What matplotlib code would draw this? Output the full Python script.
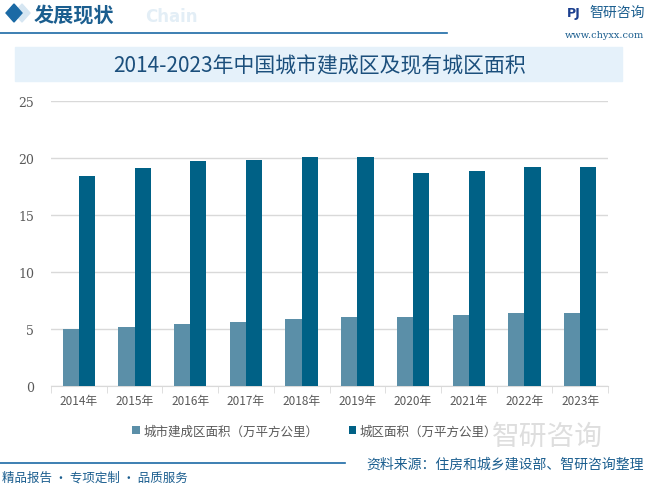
import matplotlib
matplotlib.use("Agg")
import matplotlib.pyplot as plt
from matplotlib.patches import Rectangle, Polygon
import numpy as np

plt.rcParams['font.family'] = ['Noto Sans CJK SC', 'DejaVu Sans']

years = ["2014年", "2015年", "2016年", "2017年", "2018年",
         "2019年", "2020年", "2021年", "2022年", "2023年"]
built_area = [4.98, 5.21, 5.43, 5.62, 5.85, 6.03, 6.07, 6.24, 6.37, 6.38]
urban_area = [18.41, 19.13, 19.78, 19.84, 20.09, 20.07, 18.69, 18.86, 19.22, 19.22]
series_names = ["城市建成区面积（万平方公里）", "城区面积（万平方公里）"]

c_light = "#5b8fa8"
c_dark = "#006186"

fig = plt.figure(figsize=(6.48, 4.89), dpi=100)
W, H = 648, 489

def fx(px):
    return px / W

def fy(py):
    return 1 - py / H

# header
fig.patches.append(Polygon([[fx(6), fy(14)], [fx(14), fy(5)], [fx(22), fy(14)], [fx(14), fy(23)]],
                           closed=True, transform=fig.transFigure, color="#1b6aa5", zorder=3))
fig.patches.append(Polygon([[fx(14), fy(14)], [fx(22), fy(5)], [fx(30), fy(14)], [fx(22), fy(23)]],
                           closed=True, transform=fig.transFigure, color="#d6e6f2", zorder=2))
fig.text(fx(34), fy(15), "发展现状", fontsize=14.5, fontweight="bold", color="#1b5e8f",
         va="center", ha="left")
fig.text(fx(145), fy(17), "Chain", fontsize=12, fontweight="bold", color="#e3eef6",
         va="center", ha="left", family="DejaVu Sans")
fig.lines.append(plt.Line2D([0, fx(447)], [fy(34), fy(34)], transform=fig.transFigure,
                            color="#1b6aa5", lw=1.2))
fig.text(fx(574), fy(13), "PJ", fontsize=9, fontweight="bold", color="#1b3f8f",
         va="center", ha="center", family="DejaVu Sans")
fig.text(fx(589), fy(13), "智研咨询", fontsize=10, color="#1b5e8f", va="center", ha="left")
fig.text(fx(644), fy(35), "www.chyxx.com", fontsize=7, color="#1b5e8f", va="center", ha="right",
         family="DejaVu Serif")

# title box
fig.patches.append(Rectangle((fx(15), fy(82)), fx(607), 34 / H, transform=fig.transFigure,
                             color="#e5f1fa", zorder=0))
fig.text(fx(320), fy(66), "2014-2023年中国城市建成区及现有城区面积", fontsize=15,
         color="#1b4f7c", va="center", ha="center", fontweight="medium")

# chart
ax = fig.add_axes([fx(51), fy(387), fx(557), 285 / H])
x = np.arange(len(years))
w = 0.29
ax.bar(x - w / 2, built_area, w, color=c_light, label=series_names[0], zorder=3)
ax.bar(x + w / 2, urban_area, w, color=c_dark, label=series_names[1], zorder=3)
ax.set_xlim(-0.5, len(years) - 0.5)
ax.set_ylim(0, 25)
ax.set_yticks([0, 5, 10, 15, 20, 25])
ax.yaxis.grid(True, color="#d9d9d9", lw=1, zorder=0)
for s in ["top", "right", "left"]:
    ax.spines[s].set_visible(False)
ax.spines["bottom"].set_color("#d9d9d9")
ax.tick_params(axis="y", length=0, labelsize=9, labelcolor="#595959", pad=12)
ax.set_xticks(x)
ax.set_xticklabels(years, fontsize=8.5, color="#595959")
ax.tick_params(axis="x", length=0, pad=6)
ax.set_xticks(np.arange(len(years) + 1) - 0.5, minor=True)
ax.tick_params(axis="x", which="minor", length=5, color="#d9d9d9")
for lab in ax.get_yticklabels():
    lab.set_family("DejaVu Serif")

leg = fig.legend(loc="center left", bbox_to_anchor=(fx(126), fy(432)), ncol=2, frameon=False,
                 fontsize=9, handlelength=0.6, handleheight=0.6, columnspacing=2.4,
                 handletextpad=0.3, borderpad=0)
for t in leg.get_texts():
    t.set_color("#595959")

# watermark text
fig.text(fx(492), fy(437), "智研咨询", fontsize=20, color="#c8c8c8", alpha=0.6,
         va="center", ha="left")

# footer
fig.lines.append(plt.Line2D([0, fx(345)], [fy(464), fy(464)], transform=fig.transFigure,
                            color="#1b6aa5", lw=1.2))
fig.text(fx(2), fy(478), "精品报告 · 专项定制 · 品质服务", fontsize=9, color="#1b5e8f",
         va="center", ha="left")
fig.text(fx(644), fy(465), "资料来源：住房和城乡建设部、智研咨询整理", fontsize=10,
         color="#1b5e8f", va="center", ha="right")

fig.savefig("out.png", dpi=100)
